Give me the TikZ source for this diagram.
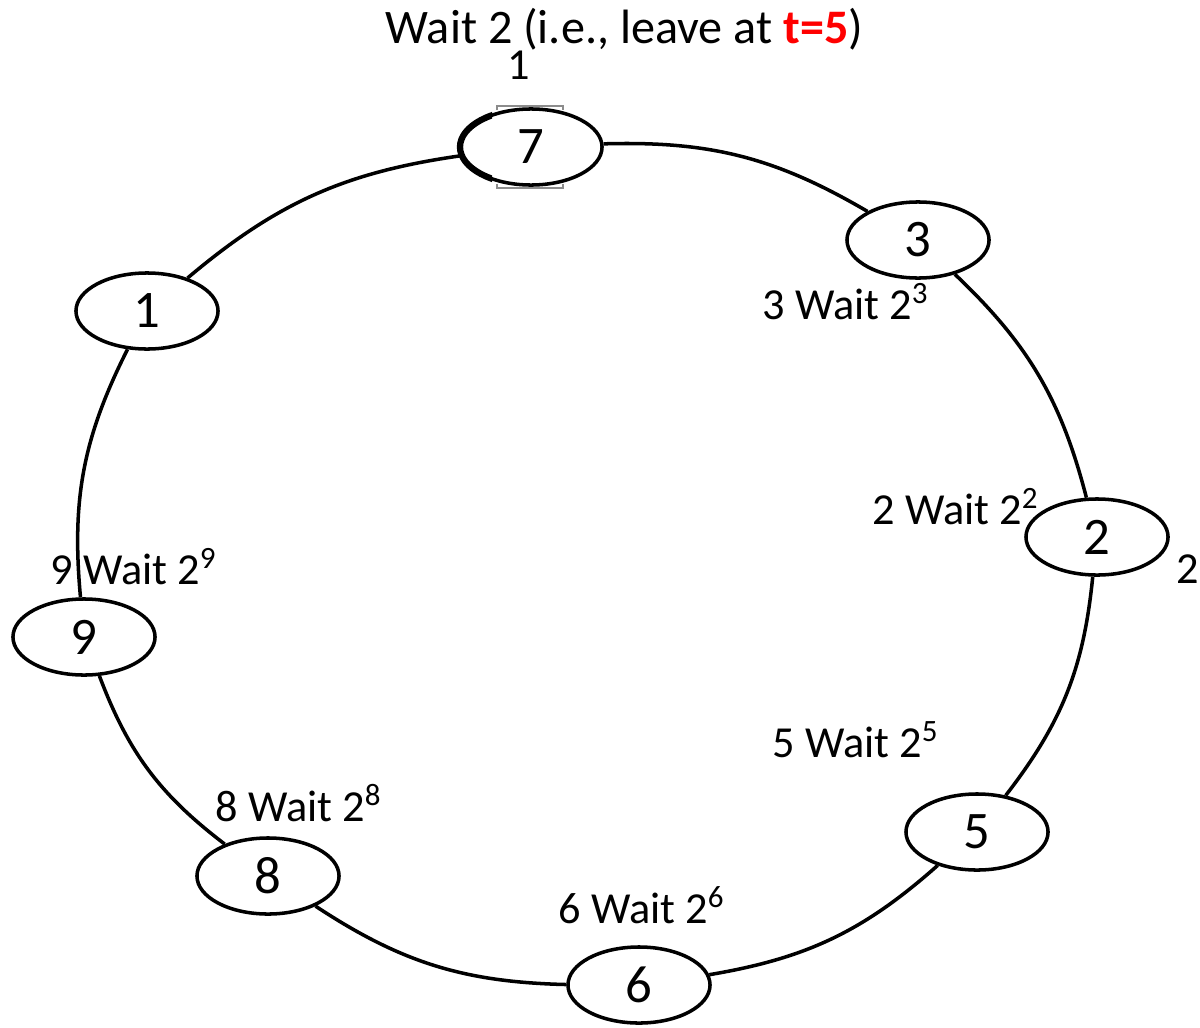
\documentclass[tikz,border=0pt]{standalone}
\usepackage{fontspec}
\setmainfont{Carlito}
\usetikzlibrary{shapes.geometric}

\begin{document}
\begin{tikzpicture}[x=0.01cm, y=-0.01cm,
		stop/.style={draw, ellipse, line width=1pt, minimum width=1.42cm, minimum height=0.76cm, inner sep=0pt, font=\fontsize{15}{18}\selectfont},
		ring/.style={line width=1pt, bend left=16},
		waitlabel/.style={anchor=base west, inner sep=0pt, font=\fontsize{12.6}{15}\selectfont}]
			%%%%% START %%%%%
			\useasboundingbox (0, 0) rectangle (1200, 1027);
			
			% stops round the ring
			\node[stop] (n7) at (531, 147) {7};
			\node[stop] (n3) at (918, 240) {3};
			\node[stop] (n2) at (1097, 537) {2};
			\node[stop] (n5) at (977, 832) {5};
			\node[stop] (n6) at (639, 985) {6};
			\node[stop] (n8) at (268, 876) {8};
			\node[stop] (n9) at (84, 637) {9};
			\node[stop] (n1) at (147, 311) {1};
			
			% heavier stroke on the left of 7, and its grey handles
			\begin{scope}
				\clip (440, 95) rectangle (492, 200);
				\draw[line width=1.8pt] (n7.center) ellipse [x radius=71, y radius=38];
			\end{scope}
			\draw[line width=0.6pt, color=black!45] (497, 110) -- (497, 106) -- (563, 106) -- (563, 110);
			\draw[line width=0.6pt, color=black!45] (497, 184) -- (497, 188) -- (563, 188) -- (563, 184);
			
			% the ring, clockwise
			\draw[ring] (n7) to (n3);
			\draw[ring] (n3) to (n2);
			\draw[ring] (n2) to (n5);
			\draw[ring] (n5) to (n6);
			\draw[ring] (n6) to (n8);
			\draw[ring] (n8) to (n9);
			\draw[ring] (n9) to (n1);
			\draw[ring] (n1) to (n7);
			
			% waiting times
			\node[anchor=base west, inner sep=0pt, font=\fontsize{13.7}{16}\selectfont] (title) at (385, 43) {Wait 2 (i.e., leave at \textcolor{red}{\textbf{t=5}})};
			\node[waitlabel] (top1) at (507, 80) {1};
			\node[waitlabel] (w3) at (762, 319) {3 Wait 2\textsuperscript{3}};
			\node[waitlabel] (w2) at (872, 524) {2 Wait 2\textsuperscript{2}};
			\node[waitlabel] (side2) at (1176, 583) {2};
			\node[waitlabel] (w9) at (50, 584) {9 Wait 2\textsuperscript{9}};
			\node[waitlabel] (w5) at (772, 757) {5 Wait 2\textsuperscript{5}};
			\node[waitlabel] (w8) at (215, 821) {8 Wait 2\textsuperscript{8}};
			\node[waitlabel] (w6) at (558, 923) {6 Wait 2\textsuperscript{6}};
			%%%%% END %%%%%
\end{tikzpicture}
\end{document}
